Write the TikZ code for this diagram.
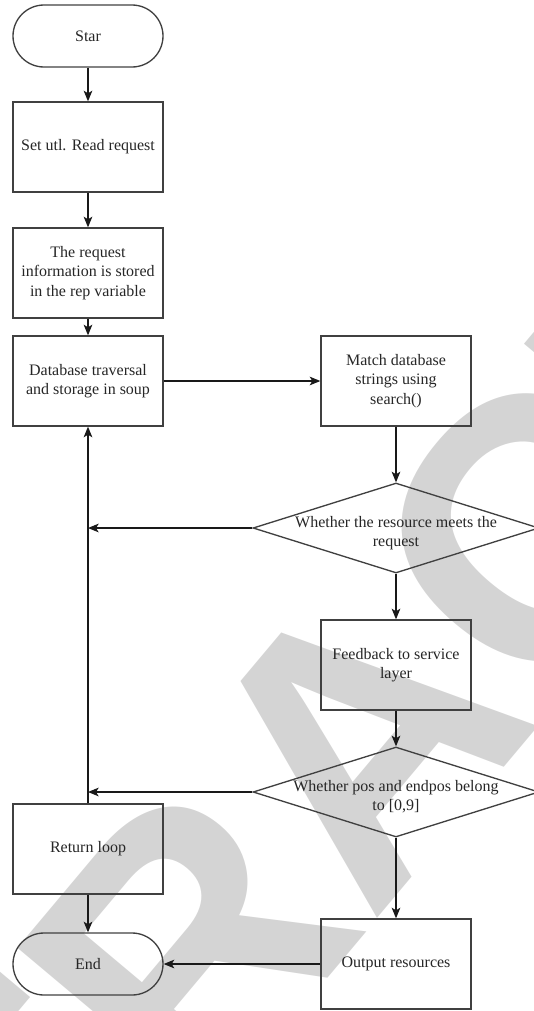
\documentclass[tikz,border=0pt]{standalone}
\usepackage{fontspec}
\setmainfont{Liberation Serif}
\newfontfamily\wmfont{Liberation Sans}
\usetikzlibrary{shapes.geometric,arrows.meta}
\newcommand{\dtext}[1]{\smash{\makebox[0pt]{\raisebox{-7pt}{\begin{tabular}{@{}c@{}}#1\end{tabular}}}}}
\begin{document}
\begin{tikzpicture}[x=0.75pt,y=-0.75pt,
    every node/.style={font=\fontsize{12}{14.5}\selectfont, text=black!85},
    box/.style={draw=black!75, line width=1pt, minimum width=112.5pt, minimum height=67.5pt, align=center},
    term/.style={box, minimum height=46.5pt, rounded corners=23.25pt},
    decision/.style={diamond, draw=black!75, line width=1pt, inner sep=0pt, minimum width=214.5pt, minimum height=67.5pt},
    arrow/.style={draw=black!90, line width=0.8pt, -{Stealth[length=8pt,width=6.5pt,inset=2pt]}}]
  \useasboundingbox (0,0) rectangle (533,1011);
  \node[font=\wmfont\bfseries\fontsize{280}{280}\selectfont, text=black!17, rotate=50] (mark) at (360,740) {RETRACTED};

  \node[term] (start) at (88,36) {Star};
  \node[box] (set) at (88,147) {Set utl. Read request};
  \node[box] (store) at (88,273) {The request\\information is stored\\in the rep variable};
  \node[box] (soup) at (88,381) {Database traversal\\and storage in soup};
  \node[box] (match) at (396,381) {Match database\\strings using\\search()};
  \node[decision] (meets) at (396,528) {\dtext{Whether the resource meets the\\request}};
  \node[box] (feed) at (396,665) {Feedback to service\\layer};
  \node[decision] (range) at (396,792) {\dtext{Whether pos and endpos belong\\to [0,9]}};
  \node[box] (loop) at (88,849) {Return loop};
  \node[term] (stop) at (88,964) {End};
  \node[box] (out) at (396,964) {Output resources};

  \draw[arrow] (start) -- (set);
  \draw[arrow] (set) -- (store);
  \draw[arrow] (store) -- (soup);
  \draw[arrow] (soup) -- (match);
  \draw[arrow] (match) -- (meets);
  \draw[arrow] (meets) -- (feed);
  \draw[arrow] (feed) -- (range);
  \draw[arrow] (range) -- (out);
  \draw[arrow] (out) -- (stop);
  \draw[arrow] (loop) -- (stop);
  \draw[arrow] (loop) -- (soup);
  \draw[arrow] (meets.west) -- (meets.west -| soup.south);
  \draw[arrow] (range.west) -- (range.west -| loop.north);
\end{tikzpicture}
\end{document}
